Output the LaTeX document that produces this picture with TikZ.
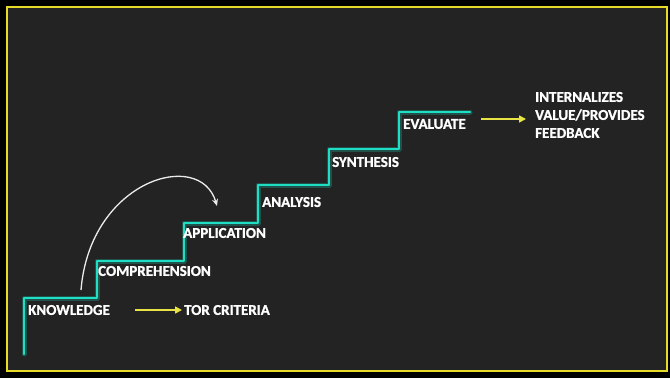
\documentclass[tikz,border=0pt]{standalone}
\usepackage{fontspec}
\setmainfont{Carlito}[FakeBold=1.2]
\usetikzlibrary{arrows.meta}
\definecolor{board}{RGB}{35,35,35}
\definecolor{frameyellow}{RGB}{232,218,40}
\definecolor{stepcyan}{RGB}{30,222,196}
\definecolor{noteyellow}{RGB}{232,228,70}
\definecolor{chalk}{RGB}{235,235,235}
\tikzset{
  level/.style={anchor=west, inner sep=0pt, text=white, font=\fontsize{15}{18}\selectfont\bfseries},
  stairline/.style={draw=stepcyan, line width=2.6pt, line join=round, line cap=round},
  stairglow/.style={draw=stepcyan, opacity=0.25, line width=5pt, line join=round, line cap=round},
  notearrow/.style={draw=noteyellow, line width=1.6pt, -{Triangle[length=7pt,width=7pt]}},
  chalkarrow/.style={draw=chalk, line width=1.3pt, -{Stealth[length=7pt,width=6pt]}},
}
\begin{document}
\begin{tikzpicture}[x=1pt, y=-1pt]
  \useasboundingbox (0,0) rectangle (670,378);
  % board and frame
  \fill[black] (0,0) rectangle (670,378);
  \fill[board] (7,7) rectangle (667,371);
  \draw[frameyellow, line width=2pt] (7,7) rectangle (667,371);

  % corners of the staircase
  \coordinate (s0) at (24,354);
  \coordinate (s1) at (24,298);
  \coordinate (s2) at (97,298);
  \coordinate (s3) at (97,261);
  \coordinate (s4) at (184,261);
  \coordinate (s5) at (184,223);
  \coordinate (s6) at (258,223);
  \coordinate (s7) at (258,185);
  \coordinate (s8) at (329,185);
  \coordinate (s9) at (329,149);
  \coordinate (s10) at (399,149);
  \coordinate (s11) at (399,112);
  \coordinate (s12) at (470,112);

  \path[stairglow] (s0) -- (s1) -- (s2) -- (s3) -- (s4) -- (s5) -- (s6)
    -- (s7) -- (s8) -- (s9) -- (s10) -- (s11) -- (s12);
  \path[stairline] (s0) -- (s1) -- (s2) -- (s3) -- (s4) -- (s5) -- (s6)
    -- (s7) -- (s8) -- (s9) -- (s10) -- (s11) -- (s12);

  % level labels
  \node[level] (know) at (28,310) {KNOWLEDGE};
  \node[level] (comp) at (98,271) {COMPREHENSION};
  \node[level] (appl) at (183,233) {APPLICATION};
  \node[level] (anal) at (262,202) {ANALYSIS};
  \node[level] (synt) at (332,162) {SYNTHESIS};
  \node[level] (eval) at (403,124) {EVALUATE};

  % notes
  \node[level] (tor) at (184,310) {TOR CRITERIA};
  \node[level, align=left] (intern) at (535,115) {INTERNALIZES\\VALUE/PROVIDES\\FEEDBACK};

  \coordinate (torstart) at (135,310);
  \coordinate (evalstart) at (481,119);
  \draw[notearrow] (torstart) -- ([xshift=-2pt]tor.west |- torstart);
  \draw[notearrow] (evalstart) -- ([xshift=-9pt]intern.west |- evalstart);

  % climbing arrow
  \coordinate (climbstart) at (81,290);
  \coordinate (climbend) at (217,206);
  \draw[chalkarrow] (climbstart) .. controls (90,180) and (200,148) .. (climbend);
\end{tikzpicture}
\end{document}
